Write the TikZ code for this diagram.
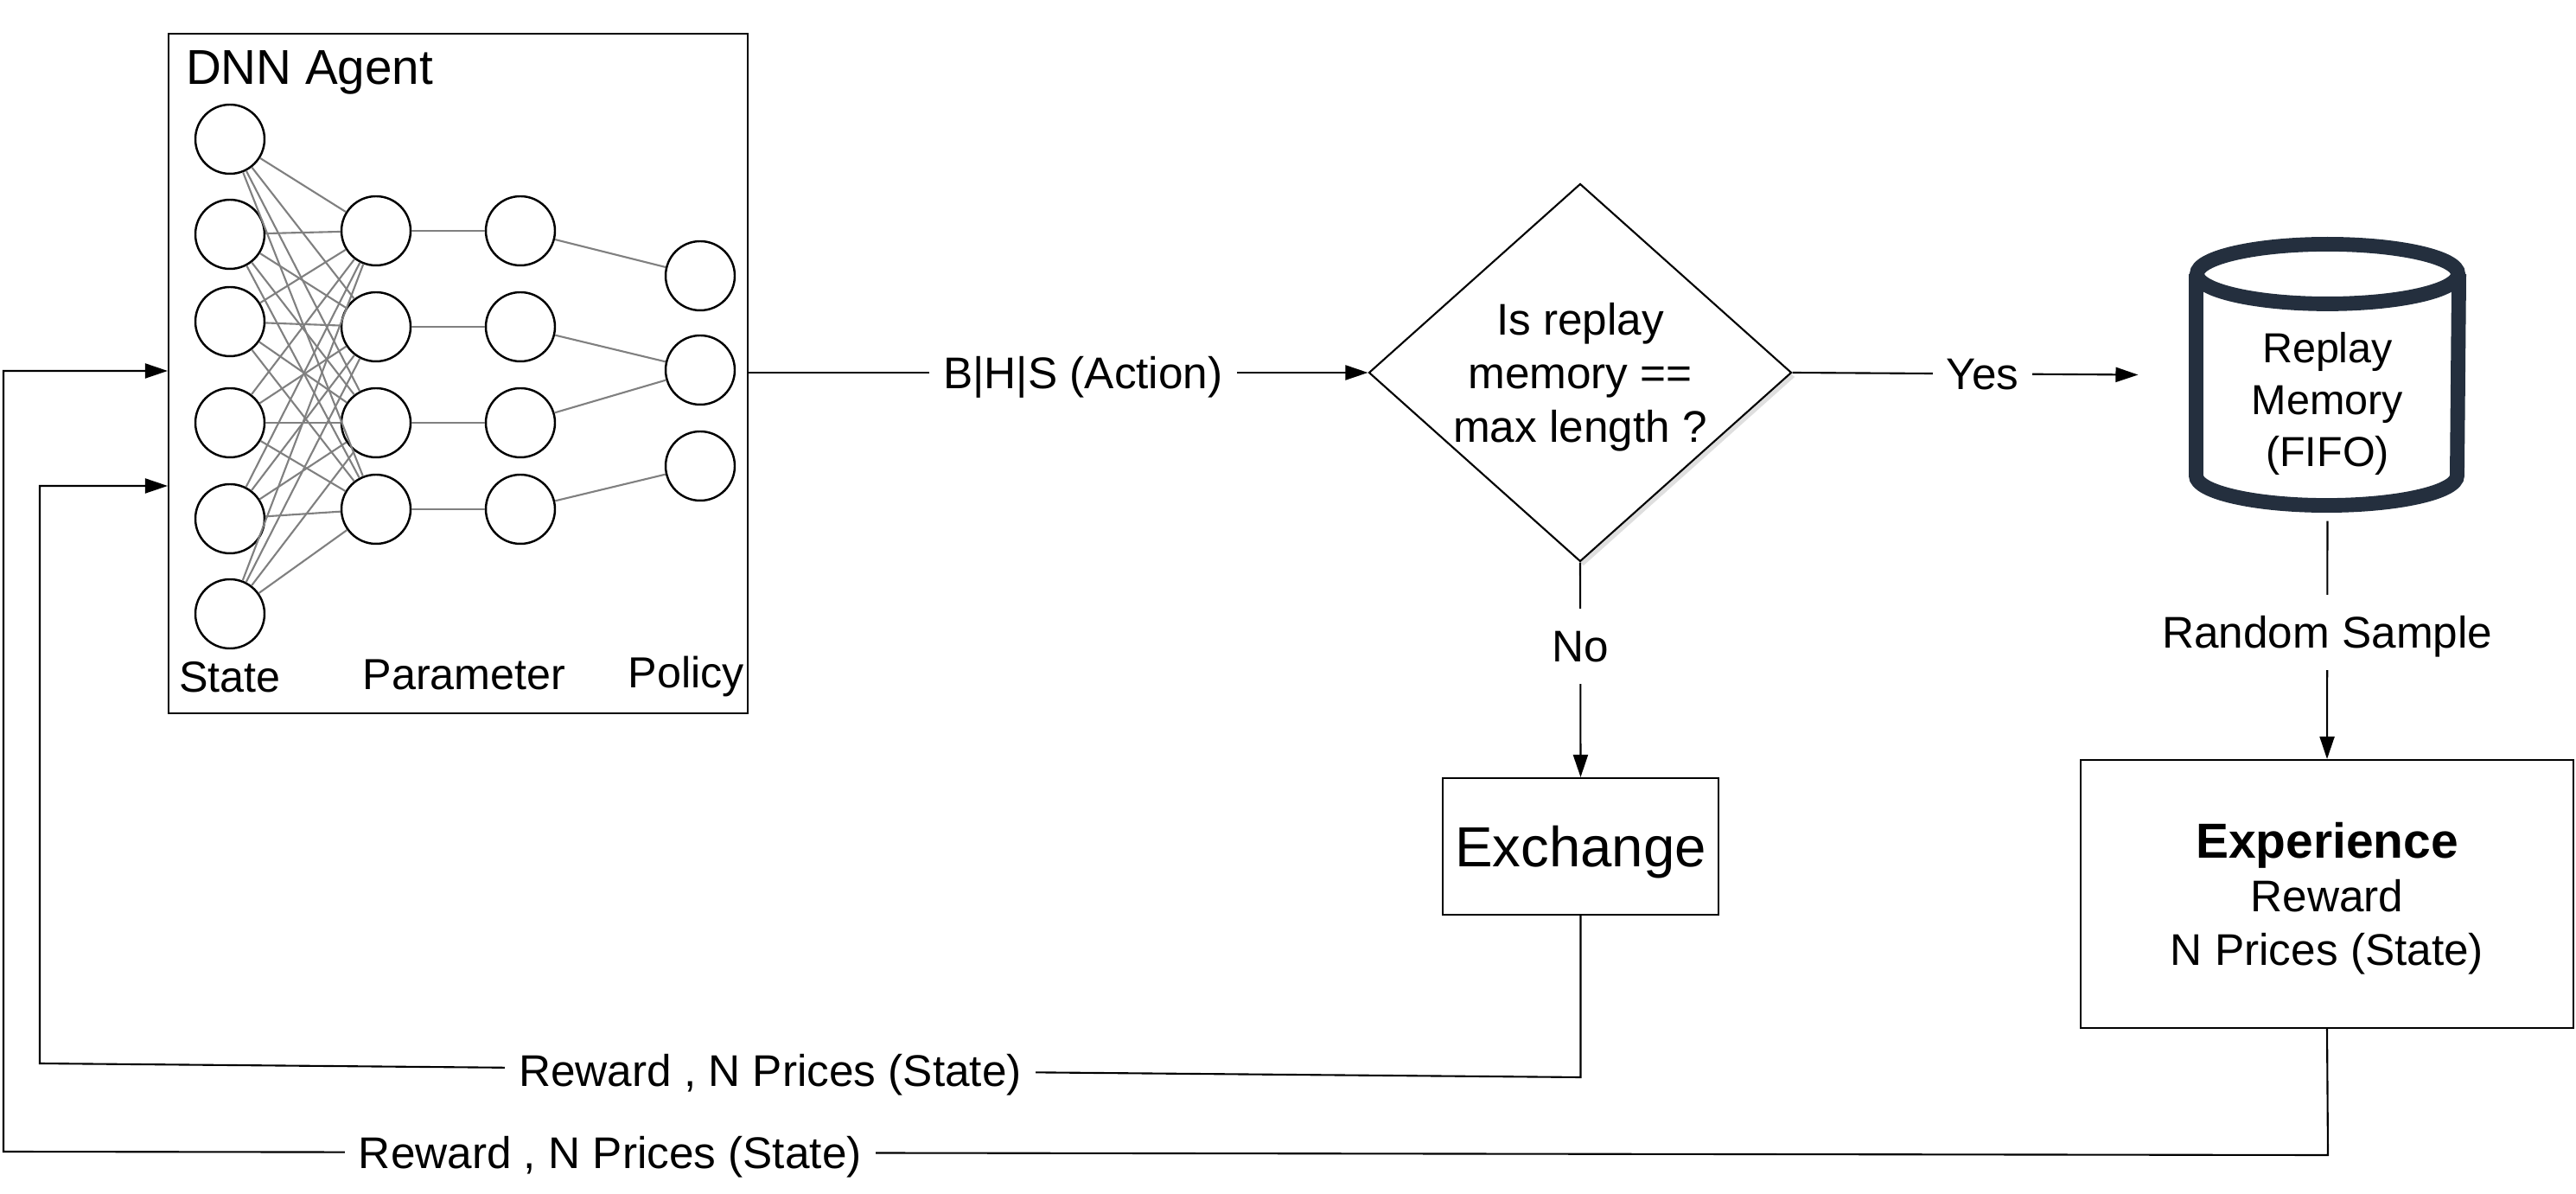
\documentclass[tikz,border=0pt]{standalone}
\usepackage{fontspec}
\setmainfont{Liberation Sans}
\usetikzlibrary{arrows.meta, shapes.geometric, shadows, positioning}

\definecolor{memcol}{RGB}{36,47,62}

\begin{document}
\begin{tikzpicture}[x=1mm, y=1mm, line width=0.6pt,
    every node/.style={font=\fontsize{14.6}{17.6}\selectfont},
    neuron/.style={draw, circle, minimum size=8mm, inner sep=0pt, line width=0.7pt},
    wire/.style={gray, line width=0.6pt},
    flow/.style={-{Triangle[length=2.6mm, width=1.7mm]}},
    lbl/.style={fill=white, inner xsep=1.6mm, inner ysep=2.5mm, text height=10.5pt, text depth=0pt},
    box/.style={draw, rectangle, inner sep=0pt, align=center, text depth=0pt},
    cyl/.style={draw=memcol, line width=4.8pt}]

    \useasboundingbox (0,0) rectangle (298,138);

    % Draw the agent box
    \node[box, minimum width=67mm, minimum height=78.6mm] (agent) at (53,94.8) {};
    \node[anchor=north west, inner sep=2mm, font=\fontsize{16.1}{19}\selectfont] (agentlbl) at (agent.north west) {DNN Agent};

    % Draw the neurons
    \foreach \i/\y in {1/121.9, 2/110.9, 3/100.8, 4/89.1, 5/78, 6/67}
        \node[neuron] (s\i) at (26.6,\y) {};
    \foreach \j/\y in {1/111.3, 2/100.2, 3/89.1, 4/79.1} {
        \node[neuron] (h\j) at (43.5,\y) {};
        \node[neuron] (p\j) at (60.2,\y) {};
    }
    \foreach \k/\y in {1/106.1, 2/95.2, 3/84.1}
        \node[neuron] (o\k) at (81,\y) {};

    % Draw the weights between the layers
    \foreach \i in {1,...,6}
        \foreach \j in {1,...,4}
            \draw[wire] (s\i) -- (h\j);
    \foreach \j in {1,...,4}
        \draw[wire] (h\j) -- (p\j);
    \foreach \j/\k in {1/1, 2/2, 3/2, 4/3}
        \draw[wire] (p\j) -- (o\k);

    % Layer names
    \node[font=\fontsize{14.3}{17}\selectfont] (statelbl) at (26.6,59.7) {State};
    \node[font=\fontsize{14.3}{17}\selectfont] (paramlbl) at (53.7,60) {Parameter};
    \node[font=\fontsize{14.3}{17}\selectfont] (policylbl) at (79.4,59.7) {Policy};

    % Draw the decision
    \node[diamond, draw, fill=white, aspect=1.12, inner sep=-1mm, minimum width=48.9mm, minimum height=43.7mm, align=center, text depth=0pt,
        drop shadow={shadow xshift=0.4mm, shadow yshift=-0.5mm, opacity=0.25}] (ask) at (182.8,94.9) {Is replay\\memory ==\\max length ?};
    \draw[flow] (agent.east |- ask.west) -- node[lbl, pos=0.54] (actlbl) {B|H|S (Action)} (ask.west);

    % Draw the replay memory
    \node[minimum width=30.2mm, minimum height=30mm, inner sep=0pt] (mem) at (269.25,94.65) {};
    \draw[cyl] ([yshift=-3.45mm]mem.north) ellipse [x radius=15.1mm, y radius=3.45mm];
    \draw[cyl] ([yshift=-3.45mm]mem.north west) -- ([yshift=3.45mm]mem.south west)
        arc[start angle=180, end angle=360, x radius=15.1mm, y radius=3.45mm] -- ([yshift=-3.45mm]mem.north east);
    \node[font=\fontsize{13.8}{17}\selectfont, align=center] (memlbl) at ([yshift=-3.35mm]mem.center) {Replay\\Memory\\(FIFO)};
    \draw[flow] (ask.east) -- node[lbl, pos=0.55] (yeslbl) {Yes} ([xshift=-6.7mm]mem.west);

    % Draw the exchange and the experience
    \node[box, minimum width=31.9mm, minimum height=15.8mm, font=\fontsize{18.6}{22}\selectfont] (xchg) at (182.85,40.1) {Exchange};
    \node[box, minimum width=57mm, minimum height=31mm] (exp) at (269.2,34.6)
        {{\fontsize{16.2}{17.7}\selectfont\bfseries Experience}\\Reward\\N Prices (State)};
    \draw[flow] (ask.south) -- node[lbl, pos=0.39] (nolbl) {No} (xchg.north);
    \draw[flow, shorten <=1.8mm] (mem.south) -- node[lbl] (samplbl) {Random Sample} (exp.north);

    % Draw the feedback loops
    \coordinate (r1a) at (182.85,13.4);
    \coordinate (r1b) at (4.6,15);
    \coordinate (r1c) at (4.6,81.8);
    \draw[flow] (xchg.south) -- (r1a) -- node[lbl, pos=0.526] (rew1) {Reward , N Prices (State)} (r1b) -- (r1c) -- (agent.west |- r1c);

    \coordinate (r2a) at (269.3,4.4);
    \coordinate (r2b) at (0.4,4.8);
    \coordinate (r2c) at (0.4,95.1);
    \draw[flow] (exp.south) -- (r2a) -- node[lbl, pos=0.739] (rew2) {Reward , N Prices (State)} (r2b) -- (r2c) -- (agent.west |- r2c);

\end{tikzpicture}
\end{document}
